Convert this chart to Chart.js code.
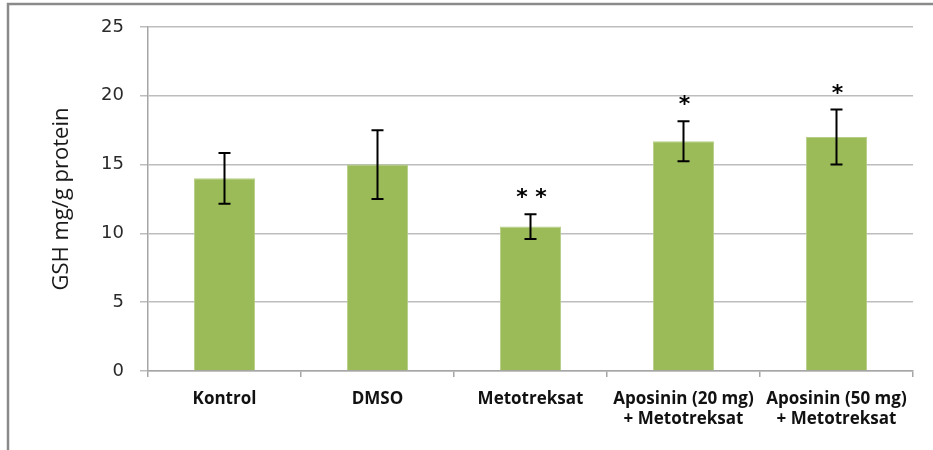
<!DOCTYPE html>
<html>
<head>
<meta charset="utf-8">
<script src="https://cdn.jsdelivr.net/npm/chart.js@4.4.1/dist/chart.umd.min.js"></script>
<style>
  html, body { margin: 0; padding: 0; background: #fff; }
  #wrap { position: relative; width: 933px; height: 450px; }
  canvas { display: block; }
</style>
</head>
<body>
<div id="wrap"><canvas id="chart" width="933" height="450"></canvas></div>
<script>
// GSH levels per treatment group
const categories = ['Kontrol', 'DMSO', 'Metotreksat', ['Aposinin (20 mg)', '+ Metotreksat'], ['Aposinin (50 mg)', '+ Metotreksat']];
const gshValues = [14.0, 15.0, 10.5, 16.7, 17.0];
const gshErrors = [1.85, 2.5, 0.9, 1.45, 2.0];
const significance = ['', '', '* *', '*', '*'];
const yTicks = [0, 5, 10, 15, 20, 25];

const BAR_GREEN = '#9bbb59';

// Frame lines around the figure
const framePlugin = {
  id: 'frame',
  beforeDraw(chart) {
    const ctx = chart.ctx;
    ctx.save();
    ctx.strokeStyle = '#8a8a8a';
    ctx.lineWidth = 2.5;
    ctx.beginPath();
    ctx.moveTo(8, 450);
    ctx.lineTo(8, 4);
    ctx.lineTo(933, 4);
    ctx.stroke();
    ctx.restore();
  }
};

// Error bars and significance stars
const errorBarPlugin = {
  id: 'errorBars',
  afterDatasetsDraw(chart) {
    const ctx = chart.ctx;
    const yScale = chart.scales.y;
    const meta = chart.getDatasetMeta(0);
    ctx.save();
    meta.data.forEach((bar, i) => {
      const v = gshValues[i];
      const e = gshErrors[i];
      const x = bar.x;
      const yTop = yScale.getPixelForValue(v + e);
      const yBot = yScale.getPixelForValue(v - e);
      ctx.strokeStyle = '#000';
      ctx.lineWidth = 2;
      ctx.beginPath();
      ctx.moveTo(x, yTop);
      ctx.lineTo(x, yBot);
      ctx.moveTo(x - 6, yTop);
      ctx.lineTo(x + 6, yTop);
      ctx.moveTo(x - 6, yBot);
      ctx.lineTo(x + 6, yBot);
      ctx.stroke();

      const mark = significance[i];
      if (mark) {
        ctx.fillStyle = '#000';
        ctx.font = 'bold 22px "DejaVu Sans"';
        ctx.textAlign = 'center';
        ctx.textBaseline = 'alphabetic';
        const m = ctx.measureText(mark);
        const descent = -m.actualBoundingBoxDescent;
        // glyph bottom sits just above the error cap
        ctx.fillText(mark, x + 1, yTop - 4 - descent);
      }
    });
    ctx.restore();
  }
};

new Chart(document.getElementById('chart'), {
  type: 'bar',
  data: {
    labels: categories,
    datasets: [{
      data: gshValues,
      backgroundColor: BAR_GREEN,
      borderColor: '#b5cf86',
      borderWidth: 1,
      barPercentage: 0.4,
      categoryPercentage: 1.0
    }]
  },
  options: {
    responsive: false,
    animation: false,
    devicePixelRatio: 1,
    layout: { padding: { left: 0, right: 20, top: 27, bottom: 0 } },
    plugins: {
      legend: { display: false },
      tooltip: { enabled: false }
    },
    scales: {
      x: {
        grid: {
          offset: true,
          drawOnChartArea: false,
          drawTicks: true,
          tickLength: 6,
          color: '#a6a6a6',
          lineWidth: 1.5
        },
        border: { color: '#a6a6a6', width: 1.5 },
        ticks: {
          color: '#111',
          font: { family: '"Open Sans"', size: 17, weight: 'bold', lineHeight: 1.2 },
          padding: 12,
          maxRotation: 0,
          autoSkip: false
        },
        afterFit(scale) { scale.height = 79; }
      },
      y: {
        min: 0,
        max: 25,
        afterBuildTicks(scale) { scale.ticks = yTicks.map(v => ({ value: v })); },
        grid: {
          color: '#bdbdbd',
          lineWidth: 1.5,
          tickLength: 8
        },
        border: { color: '#a6a6a6', width: 1.5 },
        ticks: {
          color: '#2a2a2a',
          font: { family: '"DejaVu Sans"', size: 18 },
          padding: 16
        },
        title: {
          display: true,
          text: 'GSH mg/g protein',
          color: '#1a1a1a',
          font: { family: '"Open Sans"', size: 22 },
          padding: { top: 49, bottom: 0 }
        },
        afterFit(scale) { scale.width = 148; }
      }
    }
  },
  plugins: [framePlugin, errorBarPlugin]
});
</script>
</body>
</html>
